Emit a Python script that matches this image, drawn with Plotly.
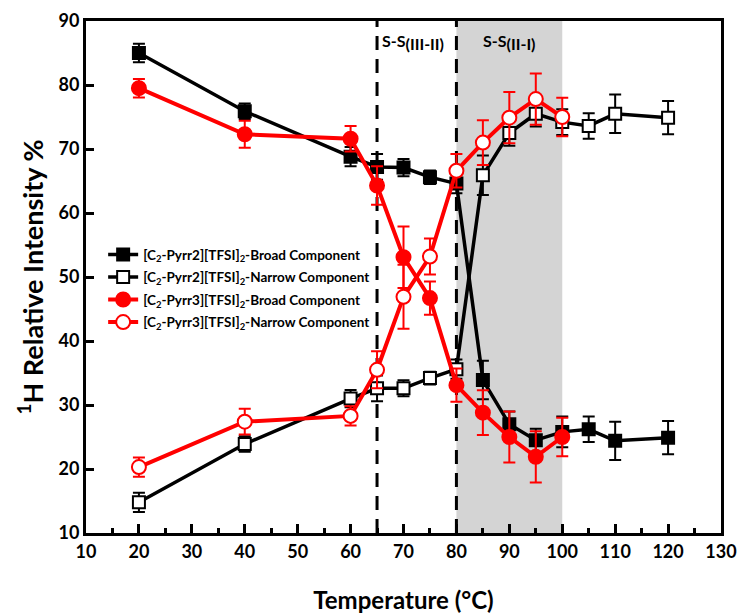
import plotly.graph_objects as go

# Temperatures (°C)
temp_pyrr2 = [20, 40, 60, 65, 70, 75, 80, 85, 90, 95, 100, 105, 110, 120]
temp_pyrr3 = [20, 40, 60, 65, 70, 75, 80, 85, 90, 95, 100]

# [C2-Pyrr2][TFSI]2 components (%)
pyrr2_broad = [85.0, 75.9, 68.8, 67.2, 67.1, 65.6, 64.6, 33.9, 27.0, 24.5, 25.8, 26.2, 24.4, 24.9]
pyrr2_broad_err = [1.45, 1.2, 1.5, 2.0, 1.35, 1.05, 1.5, 3.0, 2.0, 1.8, 2.4, 2.0, 3.0, 2.6]
pyrr2_narrow = [14.8, 23.9, 31.0, 32.6, 32.6, 34.2, 35.6, 65.9, 72.5, 75.5, 74.2, 73.6, 75.5, 74.9]
pyrr2_narrow_err = [1.5, 1.2, 1.35, 2.0, 1.25, 1.0, 1.5, 3.1, 2.0, 2.0, 2.0, 2.0, 3.0, 2.6]

# [C2-Pyrr3][TFSI]2 components (%)
pyrr3_broad = [79.5, 72.3, 71.6, 64.3, 53.1, 46.7, 33.1, 28.8, 25.0, 21.9, 25.0]
pyrr3_broad_err = [1.45, 2.1, 2.0, 3.0, 4.8, 2.6, 2.6, 3.5, 4.0, 4.0, 3.0]
pyrr3_narrow = [20.3, 27.4, 28.3, 35.5, 46.9, 53.2, 66.6, 71.0, 74.9, 77.8, 75.0]
pyrr3_narrow_err = [1.5, 2.0, 1.5, 2.9, 5.0, 2.8, 2.6, 3.5, 4.0, 4.0, 3.0]

legend_names = [
    "[C<sub>2</sub>-Pyrr2][TFSI]<sub>2</sub>-Broad Component",
    "[C<sub>2</sub>-Pyrr2][TFSI]<sub>2</sub>-Narrow Component",
    "[C<sub>2</sub>-Pyrr3][TFSI]<sub>2</sub>-Broad Component",
    "[C<sub>2</sub>-Pyrr3][TFSI]<sub>2</sub>-Narrow Component",
]

# Transition markers and the shaded S-S(II-I) window
transition_a = 65
transition_b = 80
shade_end = 100

FONT = "Lato"
BLACK = "#000000"
RED = "#ff0000"

fig = go.Figure()


def add_series(x, y, err, name, color, symbol, filled, size, lw):
    fig.add_trace(go.Scatter(
        x=x, y=y, name=name, legendgroup=name, mode="lines+markers",
        line=dict(color=color, width=lw),
        marker=dict(symbol=symbol, size=size,
                    color=color if filled else "white",
                    line=dict(color=color, width=2)),
        error_y=dict(type="data", array=err, visible=True,
                     color=color, thickness=2, width=6),
    ))


add_series(temp_pyrr2, pyrr2_broad, pyrr2_broad_err, legend_names[0], BLACK, "square", True, 12, 3.5)
add_series(temp_pyrr2, pyrr2_narrow, pyrr2_narrow_err, legend_names[1], BLACK, "square", False, 12, 3.5)
add_series(temp_pyrr3, pyrr3_broad, pyrr3_broad_err, legend_names[2], RED, "circle", True, 14, 4)
add_series(temp_pyrr3, pyrr3_narrow, pyrr3_narrow_err, legend_names[3], RED, "circle", False, 14, 4)

# Shaded region and dashed transition lines
fig.add_shape(type="rect", xref="x", yref="paper", x0=transition_b, x1=shade_end,
              y0=0, y1=1, fillcolor="#d4d4d4", line=dict(width=0), layer="below")
for xv in (transition_a, transition_b):
    fig.add_shape(type="line", xref="x", yref="paper", x0=xv, x1=xv, y0=0, y1=1,
                  line=dict(color=BLACK, width=3, dash="14px,9px"), layer="below")

SUB = "<sub><span style='font-size:16px'>{}</span></sub>"
fig.add_annotation(x=transition_a, y=0.985, xref="x", yref="paper",
                   xanchor="left", yanchor="top", xshift=3, showarrow=False,
                   text="<b>S-S" + SUB.format("(III-II)") + "</b>",
                   font=dict(family=FONT, size=16, color=BLACK))
fig.add_annotation(x=90, y=0.985, xref="x", yref="paper",
                   xanchor="center", yanchor="top", showarrow=False,
                   text="<b>S-S" + SUB.format("(II-I)") + "</b>",
                   font=dict(family=FONT, size=16, color=BLACK))

axis_common = dict(
    showline=True, linecolor=BLACK, linewidth=3, mirror=True,
    ticks="inside", tickcolor=BLACK, tickwidth=3,
    showgrid=False, zeroline=False, automargin=False,
    tickfont=dict(family=FONT, size=18, color=BLACK, weight="bold"),
)

fig.update_layout(
    width=745, height=616,
    margin=dict(l=86, r=24, t=21, b=83),
    paper_bgcolor="white", plot_bgcolor="white",
    showlegend=True,
    legend=dict(x=0.027, y=0.574, xanchor="left", yanchor="top",
                bgcolor="rgba(0,0,0,0)", borderwidth=0,
                font=dict(family=FONT, size=13.5, color=BLACK, weight="bold"),
                itemwidth=30, tracegroupgap=2),
    xaxis=dict(range=[10, 130], dtick=10, ticklen=9,
               minor=dict(ticks="inside", dtick=5, ticklen=5, tickwidth=3, tickcolor=BLACK),
               title=dict(text="<b>Temperature (°C)</b>", standoff=32,
                          font=dict(family=FONT, size=24, color=BLACK)),
               **axis_common),
    yaxis=dict(range=[10, 90], dtick=10, ticklen=8,
               title=dict(text="<b><sup>1</sup>H Relative Intensity %</b>", standoff=8,
                          font=dict(family=FONT, size=27, color=BLACK)),
               **axis_common),
)

fig.write_html("out.html")
